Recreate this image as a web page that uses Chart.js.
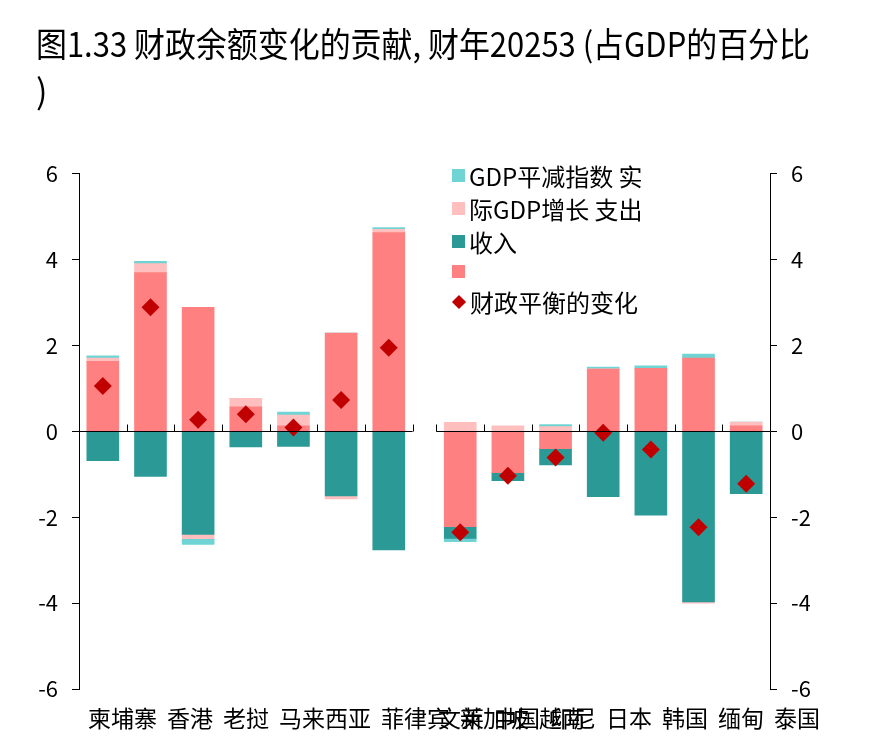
<!DOCTYPE html>
<html>
<head>
<meta charset="utf-8">
<script src="https://cdn.jsdelivr.net/npm/chart.js@4.4.1/dist/chart.umd.min.js"></script>
<style>
body { margin: 0; background: #fff; }
#wrap { position: relative; width: 880px; height: 756px; }
#legend { position: absolute; left: 452px; top: 159px; font-family: "Noto Sans CJK SC", "Noto Sans", sans-serif; font-size: 24px; color: #000; }
#legend .row { display: flex; align-items: center; height: 33px; white-space: nowrap; }
#legend .row.empty { height: 27px; }
#legend .box { width: 13px; height: 13px; margin-right: 4px; flex: none; }
#legend .dia { width: 10px; height: 10px; margin: 0 6px 0 2px; transform: rotate(45deg); flex: none; }
</style>
</head>
<body>
<div id="wrap">
  <canvas id="chart" width="880" height="756"></canvas>
  <div id="legend"></div>
</div>
<script>
// economies: left group, then right group after the gap
var leftGroup = ['柬埔寨', '香港', '老挝', '马来西亚', '菲律宾', '新加坡', '越南'];
var rightGroup = ['文莱', '中国', '印尼', '日本', '韩国', '缅甸', '泰国'];

// contributions, % of GDP
var expenditure = [1.63, 3.70, 2.89, 0.57, 0.13, 2.29, 4.63, -2.22, -0.96, -0.40, 1.45, 1.47, 1.71, 0.13];
var revenue = [-0.68, -1.05, -2.40, -0.36, -0.35, -1.50, -2.76, -0.27, -0.19, -0.38, -1.52, -1.95, -3.97, -1.45];
var realGrowth = [0.08, 0.21, -0.10, 0.20, 0.25, -0.07, 0.08, 0.21, 0.13, 0.11, 0.01, 0.00, -0.03, 0.09];
var deflator = [0.05, 0.05, -0.13, 0.00, 0.07, 0.00, 0.04, -0.08, 0.00, 0.05, 0.04, 0.06, 0.09, 0.00];
var balanceChange = [1.06, 2.89, 0.27, 0.40, 0.09, 0.73, 1.95, -2.35, -1.03, -0.61, -0.03, -0.42, -2.23, -1.22];

var yTicks = [-6, -4, -2, 0, 2, 4, 6];

var titleText = ['图1.33 财政余额变化的贡献, 财年20253 (占GDP的百分比', ')'];

var FONT = '"Noto Sans CJK SC", "Noto Sans", sans-serif';

// the right group sits half a slot further along
function slotPos(i) {
    return i < leftGroup.length ? i : i + 0.5;
}

function toPoints(values) {
    var pts = [];
    for (var i = 0; i < values.length; i++) {
        pts.push({ x: slotPos(i), y: values[i] });
    }
    return pts;
}

var centers = expenditure.map(function(v, i) { return slotPos(i); });
var xMin = -0.5;
var xMax = leftGroup.length + rightGroup.length;

Chart.defaults.font.family = FONT;
Chart.defaults.color = '#000';

function barSet(label, values, color) {
    return {
        type: 'bar',
        label: label,
        data: toPoints(values),
        backgroundColor: color,
        borderWidth: 0,
        barThickness: 32,
        xAxisID: 'x',
        yAxisID: 'y'
    };
}

var dsExp = barSet('', expenditure, '#FF8080');
var dsRev = barSet('收入', revenue, '#2B9A97');
var dsReal = barSet('际GDP增长 支出', realGrowth, '#FFBFBF');
var dsDefl = barSet('GDP平减指数 实', deflator, '#70D4D4');
var dsBal = {
    type: 'line',
    label: '财政平衡的变化',
    data: toPoints(balanceChange),
    showLine: false,
    pointStyle: 'rectRot',
    pointRadius: 9,
    pointHoverRadius: 9,
    backgroundColor: '#C00000',
    borderColor: '#C00000',
    borderWidth: 0,
    stack: 'balance',
    order: -1,
    xAxisID: 'x',
    yAxisID: 'y'
};

// zero line per group, with short marks between economies
var zeroAxis = {
    id: 'zeroAxis',
    afterDatasetsDraw: function(chart) {
        var ctx = chart.ctx;
        var xs = chart.scales.x;
        var y0 = Math.round(chart.scales.y.getPixelForValue(0)) + 0.5;
        var groups = [[-0.5, leftGroup.length - 0.5], [leftGroup.length, xMax]];
        ctx.save();
        ctx.strokeStyle = '#000';
        ctx.lineWidth = 1;
        groups.forEach(function(g) {
            ctx.beginPath();
            ctx.moveTo(xs.getPixelForValue(g[0]), y0);
            ctx.lineTo(xs.getPixelForValue(g[1]), y0);
            for (var v = g[0]; v <= g[1] + 1e-9; v += 1) {
                var px = Math.round(xs.getPixelForValue(v)) + 0.5;
                ctx.moveTo(px, y0);
                ctx.lineTo(px, y0 - 7);
            }
            ctx.stroke();
        });
        ctx.restore();
    }
};

// economy names run as two lines of text under the plot, as in the figure
var nameRow = {
    id: 'nameRow',
    afterDraw: function(chart) {
        var ctx = chart.ctx;
        var area = chart.chartArea;
        var gap = 10;
        var y = area.bottom + 29;
        ctx.save();
        ctx.font = '23px ' + FONT;
        ctx.fillStyle = '#000';
        ctx.textBaseline = 'middle';
        ctx.textAlign = 'left';
        var x = area.left + 9;
        leftGroup.forEach(function(name) {
            ctx.fillText(name, x, y);
            x += ctx.measureText(name).width + gap;
        });
        ctx.textAlign = 'right';
        x = area.right + 50;
        rightGroup.slice().reverse().forEach(function(name) {
            ctx.fillText(name, x, y);
            x -= ctx.measureText(name).width + gap;
        });
        ctx.restore();
    }
};

function fixWidth(w) {
    return function(scale) { scale.width = w; };
}

var chart = new Chart(document.getElementById('chart'), {
    data: { datasets: [dsExp, dsRev, dsReal, dsDefl, dsBal] },
    options: {
        responsive: false,
        animation: false,
        layout: { padding: { left: 36, right: 70, top: 0, bottom: 27 } },
        plugins: {
            legend: { display: false },
            tooltip: { enabled: false },
            title: {
                display: true,
                text: titleText,
                align: 'start',
                color: '#000',
                font: { size: 34, weight: 'normal', lineHeight: 1.38 },
                padding: { top: 21, bottom: 59 }
            }
        },
        scales: {
            x: {
                type: 'linear',
                stacked: true,
                offset: false,
                position: 'bottom',
                min: xMin,
                max: xMax,
                afterBuildTicks: function(scale) {
                    scale.ticks = centers.map(function(v) { return { value: v }; });
                },
                afterFit: function(scale) { scale.height = 40; },
                ticks: {
                    autoSkip: false,
                    maxRotation: 0,
                    padding: 16,
                    font: { size: 22 },
                    callback: function() { return ''; }
                },
                grid: { display: false, drawTicks: false },
                border: { display: false }
            },
            y: {
                stacked: true,
                position: 'left',
                min: -6,
                max: 6,
                afterBuildTicks: function(scale) {
                    scale.ticks = yTicks.map(function(v) { return { value: v }; });
                },
                afterFit: fixWidth(43),
                ticks: { padding: 14, font: { size: 22 } },
                grid: { drawOnChartArea: false, tickLength: 7, color: '#000' },
                border: { color: '#000', width: 1 }
            },
            y2: {
                position: 'right',
                min: -6,
                max: 6,
                afterBuildTicks: function(scale) {
                    scale.ticks = yTicks.map(function(v) { return { value: v }; });
                },
                afterFit: fixWidth(40),
                ticks: { padding: 14, font: { size: 22 } },
                grid: { drawOnChartArea: false, tickLength: 7, color: '#000' },
                border: { color: '#000', width: 1 }
            }
        }
    },
    plugins: [zeroAxis, nameRow]
});

// legend rows, in the figure's order
var legendOrder = [dsDefl, dsReal, dsRev, dsExp, dsBal];
var legendEl = document.getElementById('legend');
legendOrder.forEach(function(ds) {
    var row = document.createElement('div');
    row.className = 'row' + (ds.label === '' ? ' empty' : '');
    var mark = document.createElement('span');
    mark.className = ds.type === 'line' ? 'dia' : 'box';
    mark.style.background = ds.backgroundColor;
    row.appendChild(mark);
    var txt = document.createElement('span');
    txt.textContent = ds.label;
    row.appendChild(txt);
    legendEl.appendChild(row);
});
</script>
</body>
</html>
